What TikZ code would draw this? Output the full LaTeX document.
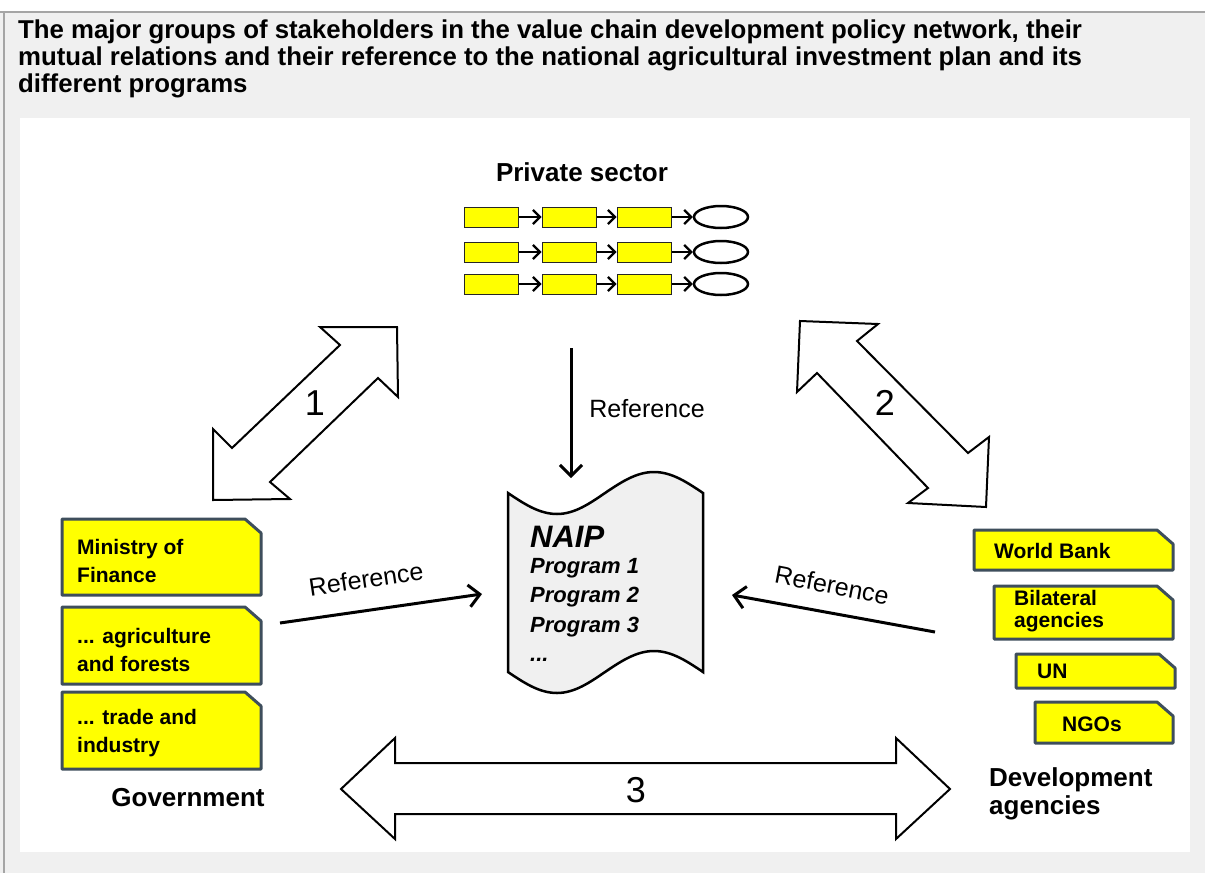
\documentclass[tikz,border=0pt]{standalone}
\usepackage{fontspec}
\setmainfont{Liberation Sans}
\usepackage{xcolor}
\usepackage{tikz}
\usetikzlibrary{arrows.meta, shapes.geometric, positioning}

\definecolor{boxyellow}{RGB}{255,255,0}
\definecolor{boxedge}{RGB}{62,78,92}
\definecolor{pagegray}{RGB}{240,240,240}
\definecolor{framegray}{RGB}{165,165,165}
\definecolor{scrollgray}{RGB}{240,240,240}
\newcommand{\pxfont}[2]{\fontsize{#1pt}{#2pt}\selectfont}
% yellow box with the top right corner cut off
\newcommand{\cutbox}[4]{\draw[cutbox] (#1,#2) -- ({#3-16},#2) -- (#3,{#2+14}) -- (#3,#4) -- (#1,#4) -- cycle;}

\begin{document}
\begin{tikzpicture}[x=1pt, y=-1pt, >={Straight Barb[length=11pt,width=22pt]},
    cutbox/.style={draw=boxedge, line width=3pt, fill=boxyellow, line join=round},
    boxtext/.style={anchor=west, align=left, inner sep=0pt, font=\pxfont{21}{28}\bfseries},
    grouplabel/.style={inner sep=0pt, align=left, font=\pxfont{26}{28}\bfseries},
    chainbox/.style={draw=black!85, line width=1pt, fill=boxyellow, minimum width=54pt, minimum height=20pt, inner sep=0pt},
    chainend/.style={draw, ellipse, line width=2.5pt, fill=white, minimum width=54pt, minimum height=22pt, inner sep=0pt},
    chainarrow/.style={-{Straight Barb[length=7pt,width=14pt]}, line width=2.2pt},
    bigarrow/.style={draw, line width=2pt, fill=white, line join=miter},
    refarrow/.style={->, line width=3pt},
    reflabel/.style={inner sep=0pt, font=\pxfont{25}{25}},
    numlabel/.style={inner sep=0pt, font=\pxfont{36}{36}}]
    \useasboundingbox (0,0) rectangle (1205,873);
    % Khung nền
    \fill[pagegray] (0,0) rectangle (1205,873);
    \fill[white] (0,0) rectangle (1205,12);
    \draw[framegray, line width=2pt] (0,12) -- (1205,12);
    \draw[framegray, line width=2pt] (4,12) -- (4,873);
    \fill[white] (20,118) rectangle (1190,852);
    \node[anchor=north west, align=left, inner sep=0pt, font=\pxfont{25.8}{27}\bfseries] (title) at (18,20)
        {The major groups of stakeholders in the value chain development policy network, their\\
         mutual relations and their reference to the national agricultural investment plan and its\\
         different programs};

    % Private sector
    \node[grouplabel] (private) at (582,172) {Private sector};
    \foreach \r/\y in {1/217, 2/252, 3/284} {
        \node[chainbox] (a\r) at (491,\y) {};
        \node[chainbox] (b\r) at (569,\y) {};
        \node[chainbox] (c\r) at (644,\y) {};
        \node[chainend] (e\r) at (721,\y) {};
        \draw[chainarrow] (a\r) -- (b\r);
        \draw[chainarrow] (b\r) -- (c\r);
        \draw[chainarrow] (c\r) -- (e\r);
    }

    % Các mũi tên lớn 1, 2, 3
    \draw[bigarrow] (397,327) -- (398,397) -- (378,378) -- (270,482) -- (290,499) -- (213,500)
        -- (213,429) -- (232,448) -- (340,345) -- (320,327) -- cycle;
    \node[numlabel] (one) at (315,403) {1};
    \draw[bigarrow] (800,321) -- (878,324) -- (857,341) -- (968,453) -- (989,437) -- (986,507)
        -- (908,503) -- (928,488) -- (817,373) -- (797,392) -- cycle;
    \node[numlabel] (two) at (885,403) {2};
    \draw[bigarrow] (341,789) -- (395,738) -- (395,763) -- (896,763) -- (896,738) -- (950,789)
        -- (896,839) -- (896,814) -- (395,814) -- (395,839) -- cycle;
    \node[numlabel] (three) at (636,790) {3};

    % NAIP
    \draw[line width=2.5pt, fill=scrollgray] (508,493) sin (557,514) cos (605,493) sin (654,472) cos (703,493)
        -- (703,672) sin (654,651) cos (605,672) sin (557,693) cos (508,672) -- cycle;
    \node[anchor=west, inner sep=0pt, font=\pxfont{31}{31}\bfseries\itshape] (naip) at (530,537) {NAIP};
    \node[anchor=north west, align=left, inner sep=0pt, font=\pxfont{22}{29.5}\bfseries\itshape] (programs)
        at (530,558) {Program 1\\Program 2\\Program 3\\...};

    % Government
    \cutbox{62}{519}{261}{595}
    \node[boxtext] (finance) at (77,561) {Ministry of\\Finance};
    \cutbox{62}{607}{261}{684}
    \node[boxtext] (agri) at (77,650) {... agriculture\\and forests};
    \cutbox{62}{692}{261}{769}
    \node[boxtext] (trade) at (77,733) {... trade and\\industry};
    \node[grouplabel] (gov) at (188,798) {Government};

    % Development agencies
    \cutbox{974}{530}{1173}{570}
    \node[boxtext] (wb) at (994,551) {World Bank};
    \cutbox{994}{586}{1173}{639}
    \node[boxtext, font=\pxfont{21}{22}\bfseries] (bilateral) at (1014,611) {Bilateral\\agencies};
    \cutbox{1016}{654}{1175}{688}
    \node[boxtext] (un) at (1037,671) {UN};
    \cutbox{1035}{702}{1173}{743}
    \node[boxtext] (ngo) at (1062,724) {NGOs};
    \node[grouplabel, anchor=west] (dev) at (989,794) {Development\\agencies};

    % Reference arrows
    \coordinate (privref) at (571,348);
    \coordinate (naiptop) at (571,478);
    \draw[refarrow] (privref) -- (naiptop);
    \node[reflabel] at (647,409) {Reference};
    \coordinate (govref) at (280,623);
    \coordinate (naipleft) at (482,594);
    \draw[refarrow] (govref) -- (naipleft);
    \node[reflabel, rotate=8.5] at (366,579) {Reference};
    \coordinate (devref) at (935,632);
    \coordinate (naipright) at (732,595);
    \draw[refarrow] (devref) -- (naipright);
    \node[reflabel, rotate=-11] at (832,585) {Reference};
\end{tikzpicture}
\end{document}
